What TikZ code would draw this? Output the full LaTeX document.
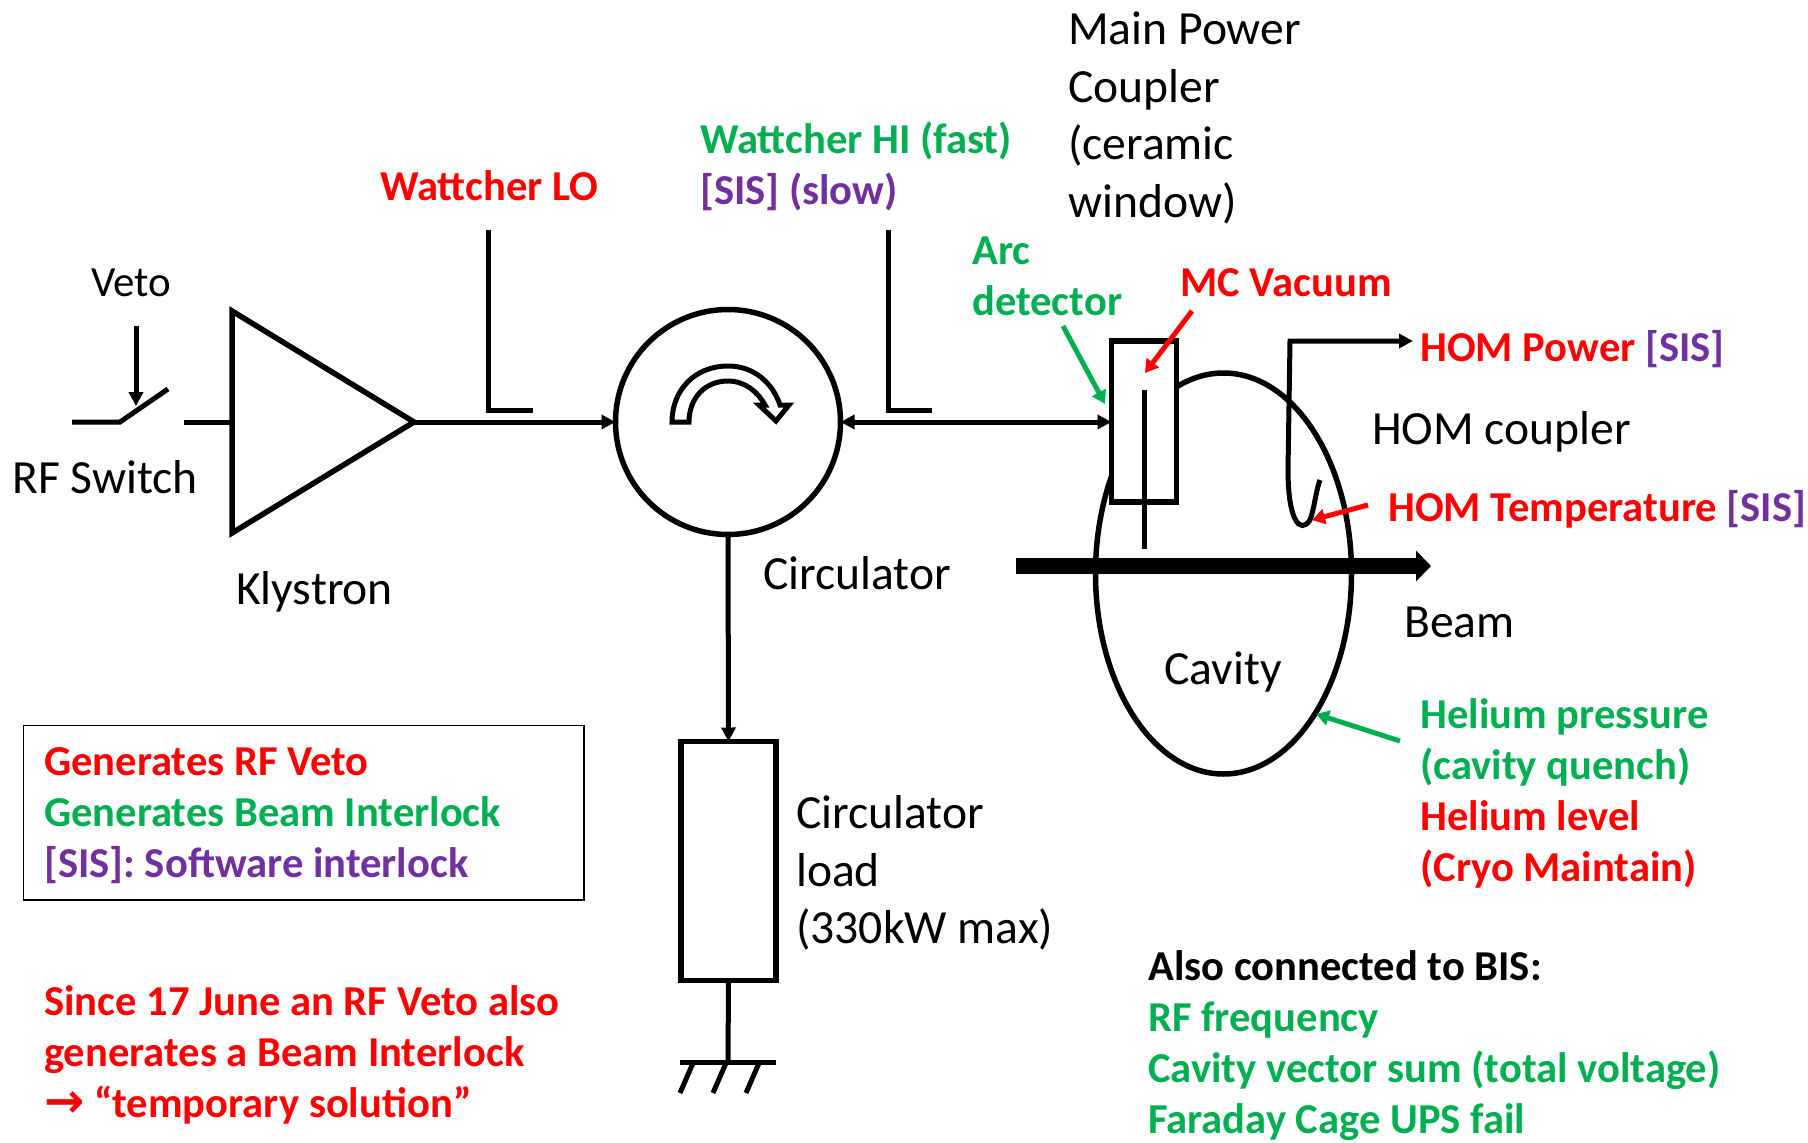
\documentclass[tikz,border=0pt]{standalone}
\usepackage{fontspec}
\setmainfont{Carlito}
\newfontfamily\arrowfont{DejaVu Sans}
\usetikzlibrary{arrows.meta,shapes.geometric}
\definecolor{rfred}{HTML}{FF0000}
\definecolor{bisgreen}{HTML}{00B050}
\definecolor{sispurple}{HTML}{7030A0}
\newcommand{\sis}{\textcolor{sispurple}{[SIS]}}

\begin{document}
\begin{tikzpicture}[x=1pt, y=-1pt, >={Triangle[length=14pt,width=14pt]}]
\tikzstyle{label} = [inner sep=0, anchor=west, align=left, font=\fontsize{47.6}{57.6}\selectfont];
\tikzstyle{info} = [inner sep=0, anchor=west, align=left, font=\fontsize{42.6}{51}\selectfont\bfseries];
\tikzstyle{wire} = [line width=5pt];
\tikzstyle{part} = [draw, line width=5.5pt, inner sep=0, outer sep=0];
\tikzstyle{tag} = [line width=5pt, -{Triangle[length=13pt,width=15pt]}];
\useasboundingbox (0, 0) rectangle (1808, 1143);

\coordinate (in1) at (72, 422);
\coordinate (in2) at (120, 422);
\coordinate (blade) at (168, 389);
\coordinate (vetotop) at (136, 326);
\coordinate (vetoend) at (136, 406);
\coordinate (in3) at (184, 422);
\coordinate (kl1) at (232, 311);
\coordinate (kl2) at (232, 533);
\coordinate (kl3) at (414, 422);
\coordinate (klin) at (232, 422);

\node[part, circle, minimum size=225pt] (circ) at (728, 422) { };
\node[part, rectangle, minimum width=95pt, minimum height=239pt, anchor=north] (load) at (728.5, 741.5) { };
\node[part, ellipse, minimum width=256pt, minimum height=401pt] (cavity) at (1223.5, 573.5) { };
\node[part, rectangle, fill=white, minimum width=65pt, minimum height=161pt, anchor=north west] (mpc) at (1111.5, 341) { };

\draw[wire] (in1) -- (in2) -- (blade);
\draw[wire] (in3) -- (klin);
\draw[wire, ->] (vetotop) -- (vetoend);
\draw[part, line join=miter] (kl1) -- (kl2) -- (kl3) -- cycle;
\draw[wire, ->] (kl3) -- (circ.west);
\draw[wire, <->] (circ.east) -- (mpc.west |- circ.east);
\draw[wire, ->] (circ.south) -- (load.north);

% directional couplers
\draw[wire] (488, 230) -- (488, 410) -- (533, 410);
\draw[wire] (888, 230) -- (888, 410) -- (932, 410);

% circulator sign
\draw[wire, line join=miter] (672, 422) .. controls (672, 390) and (695, 366) .. (728, 366) .. controls (755, 366) and (773, 384) .. (780, 405) -- (789, 405) -- (776, 421) -- (759, 405) -- (765, 405) .. controls (758, 392) and (745, 381) .. (728, 381) .. controls (705, 381) and (689, 398) .. (689, 422) -- cycle;

% ground
\coordinate (gnd) at (728, 1062);
\draw[wire] (load.south) -- (gnd);
\draw[wire] (680, 1062) -- (776, 1062);
\foreach \x in {693, 726, 759}
  \draw[wire] (\x, 1063) -- (\x-13, 1093);

% cavity inside
\coordinate (rodtop) at (1144, 390);
\coordinate (rodend) at (1144, 549);
\draw[wire] (rodtop) -- (rodend);
\coordinate (beamin) at (1016, 566);
\coordinate (beamout) at (1431, 566);
\draw[line width=16pt, -{Triangle[length=15pt,width=30pt]}] (beamin) -- (beamout);
\coordinate (homout) at (1413, 341);
\draw[wire, <-] (homout) -- (1290, 341) -- (1288, 470) .. controls (1288, 520) and (1300, 535) .. (1310, 520) .. controls (1314, 510) and (1316, 490) .. (1320, 480);

% pointers
\coordinate (arcfrom) at (1063, 326);
\coordinate (arcto) at (1105, 404);
\coordinate (mcfrom) at (1192, 311);
\coordinate (mcto) at (1145, 373);
\coordinate (tempfrom) at (1368, 505);
\coordinate (tempto) at (1312, 520);
\coordinate (hefrom) at (1400, 741);
\coordinate (heto) at (1316, 714);
\draw[tag, draw=bisgreen, bisgreen] (arcfrom) -- (arcto);
\draw[tag, draw=rfred, rfred] (mcfrom) -- (mcto);
\draw[tag, draw=rfred, rfred] (tempfrom) -- (tempto);
\draw[tag, draw=bisgreen, bisgreen] (hefrom) -- (heto);

% texts
\node[label, font=\fontsize{43}{52}\selectfont] (veto) at (91, 283) {Veto};
\node[label] (switch) at (12, 477) {RF Switch};
\node[label] (klystron) at (236, 592) {Klystron};
\node[label] (circlabel) at (763, 573) {Circulator};
\node[label] (mpclabel) at (1068, 118) {Main Power\\Coupler\\(ceramic\\window)};
\node[label] (homlabel) at (1372, 432) {HOM coupler};
\node[label] (beam) at (1404, 622) {Beam};
\node[label, anchor=center] (cavlabel) at (1223, 672) {Cavity};
\node[label] (loadlabel) at (796, 873) {Circulator\\load\\(330kW max)};

\node[info, rfred] (lo) at (380, 186) {Wattcher LO};
\node[info] (hi) at (700, 166) {\textcolor{bisgreen}{Wattcher HI (fast)}\\\sis{} \textcolor{sispurple}{(slow)}};
\node[info, bisgreen] (arc) at (972, 276) {Arc\\detector};
\node[info, rfred] (mcvac) at (1180, 283) {MC Vacuum};
\node[info, rfred] (hompower) at (1420, 349) {HOM Power \sis};
\node[info, rfred] (homtemp) at (1388, 509) {HOM Temperature \sis};
\node[info] (helium) at (1420, 793) {\textcolor{bisgreen}{Helium pressure}\\\textcolor{bisgreen}{(cavity quench)}\\\textcolor{rfred}{Helium level}\\\textcolor{rfred}{(Cryo Maintain)}};
\node[info] (bis) at (1148, 1046) {Also connected to BIS:\\\textcolor{bisgreen}{RF frequency}\\\textcolor{bisgreen}{Cavity vector sum (total voltage)}\\\textcolor{bisgreen}{Faraday Cage UPS fail}};
\node[info] (legend) at (44, 816) {\textcolor{rfred}{Generates RF Veto}\\\textcolor{bisgreen}{Generates Beam Interlock}\\\textcolor{sispurple}{[SIS]: Software interlock}};
\draw[line width=1.5pt] (23.5, 725.5) rectangle (584, 900);
\node[info, rfred] (since) at (44, 1055) {Since 17 June an RF Veto also\\generates a Beam Interlock\\{\arrowfont\fontsize{48}{51}\selectfont\bfseries →} “temporary solution”};
\end{tikzpicture}
\end{document}
